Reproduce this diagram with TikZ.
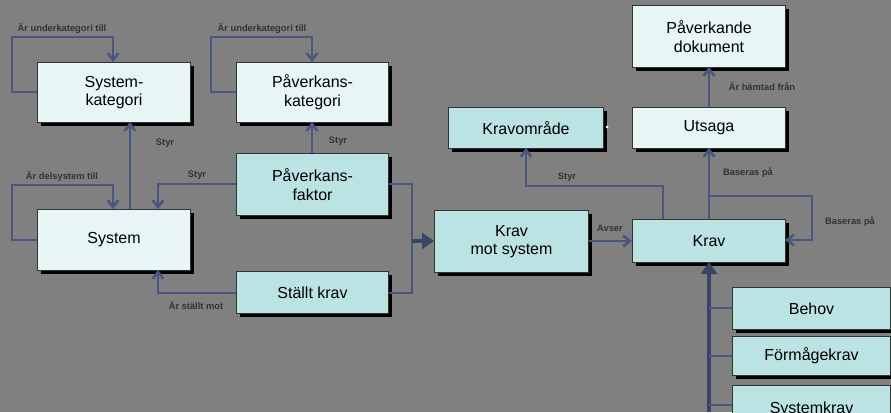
\documentclass[tikz,border=0pt]{standalone}
\usepackage{fontspec}
\setmainfont{Liberation Sans}
\usetikzlibrary{arrows.meta}
\definecolor{bg}{HTML}{808080}
\definecolor{lite}{HTML}{E8F5F5}
\definecolor{teal}{HTML}{BCE3E3}
\definecolor{ln}{HTML}{4A5580}
\tikzset{
 box/.style={draw=black!80,line width=0.8pt,align=center,font=\fontsize{12}{14}\selectfont,inner sep=0pt},
 wbox/.style={box,fill=lite},
 tbox/.style={box,fill=teal},
 con/.style={draw=ln,line width=2pt,-{Straight Barb[length=5pt,width=8pt]}},
 thick con/.style={draw=ln!80!black,line width=2.6pt,-{Triangle[length=9pt,width=12pt]}},
 ln/.style={draw=ln,line width=2pt},
 lab/.style={font=\bfseries\fontsize{7}{8}\selectfont,text=black!80}
}
\begin{document}
\begin{tikzpicture}[x=0.75pt,y=-0.75pt]
\fill[bg] (0,0) rectangle (891,412);
\useasboundingbox (0,0) rectangle (891,412);
\newcommand{\bx}[6]{%
 \fill[black] (#2+4,#3+4) rectangle (#4+4,#5+4);
 \node[#1,minimum width={(#4-#2)*0.75pt},minimum height={(#5-#3)*0.75pt},anchor=north west] (#6) at (#2,#3) {};}
\bx{wbox}{37}{62}{190}{122}{sk}
\bx{wbox}{236}{62}{388}{122}{pk}
\bx{tbox}{236}{153}{388}{215}{pf}
\bx{wbox}{37}{209}{190}{270}{sys}
\bx{tbox}{236}{271}{388}{313}{sk2}
\bx{tbox}{434}{210}{588}{272}{kms}
\bx{tbox}{448}{107}{603}{148}{ko}
\bx{wbox}{632}{107}{785}{148}{ut}
\bx{wbox}{632}{5}{785}{67}{pd}
\bx{tbox}{632}{219}{785}{262}{krav}
\bx{tbox}{732}{287}{890}{329}{beh}
\bx{tbox}{732}{336}{890}{375}{fk}
\bx{tbox}{732}{385}{890}{425}{syk}
\begin{scope}[every node/.style={align=center,font=\fontsize{12}{14}\selectfont}]
\node at (sk.center) {System-\\kategori};
\node at (pk.center) {Påverkans-\\kategori};
\node at (pf.center) {Påverkans-\\faktor};
\node at (sys.center) {System};
\node at (sk2.center) {Ställt krav};
\node at (kms.center) {Krav\\mot system};
\node at (ko.center) {Kravområde};
\node at (ut.center) {Utsaga};
\node at (pd.center) {Påverkande\\dokument};
\node at (krav.center) {Krav};
\node at (beh.center) {Behov};
\node at (fk.center) {Förmågekrav};
\node at (syk.north) [anchor=north,yshift=-9pt] {Systemkrav};
\end{scope}
% self loops
\draw[con] (sk.west |- 0,92) -- (12,92) -- (12,37) -- (113,37) -- (113,62);
\draw[con] (pk.west |- 0,92) -- (211,92) -- (211,37) -- (312,37) -- (312,62);
\draw[con] (sys.west |- 0,240) -- (12,240) -- (12,185) -- (113,185) -- (113,209);
\node[lab] at (62,28) {Är underkategori till};
\node[lab] at (262,28) {Är underkategori till};
\node[lab] at (62,176) {Är delsystem till};
% styr
\draw[con] (130,209) -- (130,122);
\node[lab] at (165,143) {Styr};
\draw[con] (312,153) -- (312,122);
\node[lab] at (338,141) {Styr};
\draw[con] (pf.west |- 0,184) -- (158,184) -- (158,209);
\node[lab] at (197,175) {Styr};
\draw[con] (sk2.west |- 0,293) -- (158,293) -- (158,270);
\node[lab] at (196,306) {Är ställt mot};
% to krav mot system
\draw[ln] (pf.east |- 0,184) -- (412,184) -- (412,293) -- (sk2.east |- 0,293);
\draw[thick con] (412,241) -- (kms.west |- 0,241);
\draw[con] (kms.east |- 0,241) -- (krav.west |- 0,241);
\node[lab] at (610,228) {Avser};
\draw[con] (663,219) -- (663,186) -- (526,186) -- (526,148);
\node[lab] at (567,177) {Styr};
\draw[con] (709,219) -- (709,148);
\node[lab] at (748,173) {Baseras på};
\draw[con] (709,196) -- (812,196) -- (812,240) -- (785,240);
\node[lab] at (850,222) {Baseras på};
\draw[con] (709,107) -- (709,67);
\node[lab] at (762,87) {Är hämtad från};
\draw[thick con] (709,412) -- (709,262);
\draw[ln] (beh.west |- 0,308) -- (709,308);
\draw[ln] (fk.west |- 0,356) -- (709,356);
\draw[ln] (syk.west |- 0,405) -- (709,405);
\fill[white] (607,127) circle (1.5);
\end{tikzpicture}
\end{document}
